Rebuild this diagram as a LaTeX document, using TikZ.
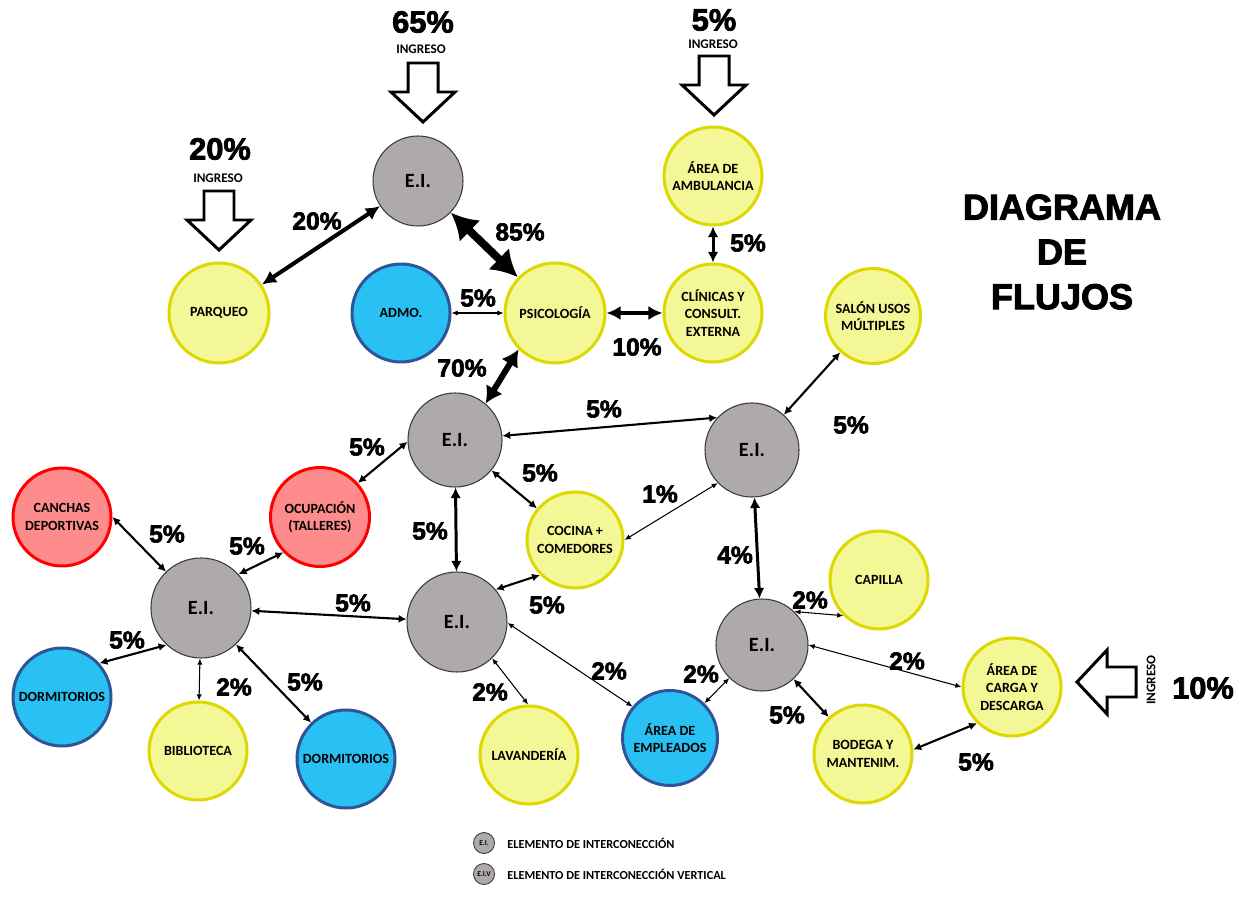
\documentclass[tikz,border=0pt]{standalone}
\usepackage{fontspec}
\setmainfont{Carlito}
\newfontfamily\heavyfont{Liberation Sans Bold}[FakeBold=2.5]
\usepackage{tikz}
\usetikzlibrary{arrows.meta}
\definecolor{area}{HTML}{F3F795}
\definecolor{arealine}{HTML}{DDD800}
\definecolor{hub}{HTML}{ADAAA9}
\definecolor{hubline}{HTML}{3A3A3A}
\definecolor{staff}{HTML}{29C0F3}
\definecolor{staffline}{HTML}{2F5597}
\definecolor{sport}{HTML}{FF8C8C}
\definecolor{sportline}{HTML}{FF0000}
\definecolor{ink}{HTML}{000000}
\tikzset{
  >=Latex,
  every node/.style={text=ink},
  spot/.style={circle,draw=arealine,line width=1.7pt,fill=area,minimum size=19.6mm,inner sep=0pt,align=center,font=\fontsize{8}{9.8}\selectfont\bfseries},
  staffspot/.style={spot,draw=staffline,fill=staff},
  sportspot/.style={spot,draw=sportline,fill=sport},
  hubspot/.style={spot,draw=hubline,line width=0.6pt,fill=hub,font=\fontsize{11.5}{12}\selectfont\bfseries},
  pct/.style={font=\heavyfont\fontsize{14}{14}\selectfont,inner sep=0pt},
  bigpct/.style={pct,font=\heavyfont\fontsize{17.5}{17.5}\selectfont},
  ingresslabel/.style={font=\fontsize{7.5}{8}\selectfont\bfseries,inner sep=0pt},
  ingress/.style={draw=ink,line width=1.7pt,fill=white,line join=miter},
  thinflow/.style={{Latex[length=3.5pt,width=3pt]}-{Latex[length=3.5pt,width=3pt]},line width=0.6pt,draw=ink},
  flow/.style={{Latex[length=4.5pt,width=4.5pt]}-{Latex[length=4.5pt,width=4.5pt]},line width=1.2pt,draw=ink},
  midflow/.style={{Latex[length=6pt,width=6pt]}-{Latex[length=6pt,width=6pt]},line width=1.7pt,draw=ink},
  thickflow/.style={{Latex[length=8pt,width=8pt]}-{Latex[length=8pt,width=8pt]},line width=2.3pt,draw=ink},
  heavyflow/.style={{Latex[length=9.5pt,width=11pt]}-{Latex[length=9.5pt,width=11pt]},line width=3.4pt,draw=ink},
  maxflow/.style={{Latex[length=15pt,width=17pt]}-{Latex[length=15pt,width=17pt]},line width=4.5pt,draw=ink},
  title/.style={align=center,font=\heavyfont\fontsize{20.5}{25.5}\selectfont,inner sep=0pt},
  keytext/.style={anchor=west,inner sep=0pt,font=\fontsize{7}{7.5}\selectfont\bfseries},
  pics/ingressarrow/.style={code={
    \draw[ingress] (-15,-59) -- (15,-59) -- (15,-30) -- (32,-30) -- (0,0) -- (-32,-30) -- (-15,-30) -- cycle;
  }},
}

\begin{document}
\begin{tikzpicture}[x=0.2mm,y=-0.2mm]
\useasboundingbox (0,0) rectangle (1249,898);

\node[hubspot,minimum size=18mm] (eiTop) at (418,181) {E.I.};
\node[spot,minimum size=20mm] (parqueo) at (219,313) {PARQUEO};
\node[staffspot] (admo) at (401,313) {ADMO.};
\node[spot,minimum size=20mm] (psicologia) at (555,313) {PSICOLOGÍA};
\node[spot] (ambulancia) at (713,176) {ÁREA DE\\AMBULANCIA};
\node[spot] (clinicas) at (713,313) {CLÍNICAS Y\\CONSULT.\\EXTERNA};
\node[spot,minimum size=19mm] (salon) at (873,316) {SALÓN USOS\\MÚLTIPLES};
\node[hubspot,minimum size=18.8mm] (eiMid) at (455,440) {E.I.};
\node[hubspot,minimum size=18.8mm] (eiRight) at (752,450) {E.I.};
\node[sportspot,minimum size=19.8mm] (ocupacion) at (320,517) {OCUPACIÓN\\(TALLERES)};
\node[sportspot] (canchas) at (62,517) {CANCHAS\\DEPORTIVAS};
\node[spot,minimum size=19.2mm] (cocina) at (575,540) {COCINA +\\COMEDORES};
\node[hubspot,minimum size=20mm] (eiLeft) at (201,608) {E.I.};
\node[hubspot,minimum size=20mm] (eiCenter) at (457,622) {E.I.};
\node[hubspot,minimum size=18.4mm] (eiLow) at (762,645) {E.I.};
\node[spot] (capilla) at (879,580) {CAPILLA};
\node[spot] (carga) at (1012,687) {ÁREA DE\\CARGA Y\\DESCARGA};
\node[staffspot] (dormA) at (62,697) {DORMITORIOS};
\node[spot] (biblioteca) at (198,751) {BIBLIOTECA};
\node[staffspot] (dormB) at (346,759) {DORMITORIOS};
\node[spot] (lavanderia) at (529,755) {LAVANDERÍA};
\node[staffspot,minimum size=19mm] (empleados) at (670,738) {ÁREA DE\\EMPLEADOS};
\node[spot] (bodega) at (863,754) {BODEGA Y\\MANTENIM.};

\pic at (423,122) {ingressarrow};
\pic at (219,250) {ingressarrow};
\pic at (714,115) {ingressarrow};
\pic[rotate=-90] at (1077,682) {ingressarrow};
\node[bigpct] (inTopPct) at (423,22) {65\%};
\node[ingresslabel] (inTopTxt) at (421,49) {INGRESO};
\node[bigpct] (inParkPct) at (220,149) {20\%};
\node[ingresslabel] (inParkTxt) at (218,178) {INGRESO};
\node[bigpct] (inAmbPct) at (714,20) {5\%};
\node[ingresslabel] (inAmbTxt) at (713,44) {INGRESO};
\node[bigpct] (inLoadPct) at (1203,688) {10\%};
\node[ingresslabel,rotate=90] (inLoadTxt) at (1151,680) {INGRESO};

\node[title] (title) at (1062,252) {DIAGRAMA\\DE\\FLUJOS};

\draw[thickflow] (eiTop) -- (parqueo);
\draw[maxflow] (eiTop) -- (psicologia);
\draw[thinflow] (admo) -- (psicologia);
\draw[thickflow] (psicologia) -- (clinicas);
\draw[midflow] (ambulancia) -- (clinicas);
\draw[heavyflow] (psicologia.225) -- (eiMid.50);
\draw[flow] (eiMid.5) -- (eiRight.137);
\draw[flow] (eiRight) -- (salon);
\draw[flow] (ocupacion.42) -- (eiMid.182);
\draw[flow] (eiMid) -- (cocina);
\draw[midflow] (eiMid) -- (eiCenter);
\draw[thinflow] (cocina.0) -- (eiRight.224);
\draw[midflow] (eiRight) -- (eiLow);
\draw[flow] (canchas.0) -- (eiLeft.134);
\draw[flow] (eiLeft.42) -- (ocupacion.224);
\draw[flow] (eiLeft) -- (eiCenter);
\draw[flow] (eiCenter.40) -- (cocina.225);
\draw[flow] (dormA.42) -- (eiLeft.227);
\draw[thinflow] (eiLeft) -- (biblioteca);
\draw[flow] (eiLeft) -- (dormB);
\draw[thinflow] (eiCenter.314) -- (lavanderia.91);
\draw[thinflow] (eiCenter.-1) -- (empleados.140);
\draw[thinflow] (eiLow) -- (empleados);
\draw[thinflow] (eiLow.46) -- (capilla.225);
\draw[thinflow] (eiLow.0) -- (carga.180);
\draw[flow] (eiLow) -- (bodega);
\draw[flow] (bodega.5) -- (carga.226);

\node[pct] (pParqueo) at (317,221) {20\%};
\node[pct] (pPsico) at (520,232) {85\%};
\node[pct] (pAdmo) at (478,298) {5\%};
\node[pct] (pClinicas) at (637,347) {10\%};
\node[pct] (pAmb) at (748,243) {5\%};
\node[pct] (pDown) at (462,368) {70\%};
\node[pct] (pAcross) at (604,409) {5\%};
\node[pct] (pSalon) at (851,425) {5\%};
\node[pct] (pOcupA) at (367,447) {5\%};
\node[pct] (pCocinaA) at (540,473) {5\%};
\node[pct] (pMidDown) at (430,531) {5\%};
\node[pct] (pCocinaR) at (660,494) {1\%};
\node[pct] (pRightDown) at (735,555) {4\%};
\node[pct] (pCanchas) at (167,534) {5\%};
\node[pct] (pOcupB) at (247,546) {5\%};
\node[pct] (pLeftCenter) at (353,603) {5\%};
\node[pct] (pCocinaB) at (547,605) {5\%};
\node[pct] (pDormA) at (127,640) {5\%};
\node[pct] (pBiblio) at (234,687) {2\%};
\node[pct] (pDormB) at (305,682) {5\%};
\node[pct] (pLav) at (490,692) {2\%};
\node[pct] (pEmpA) at (609,671) {2\%};
\node[pct] (pEmpB) at (701,674) {2\%};
\node[pct] (pCapilla) at (810,600) {2\%};
\node[pct] (pCarga) at (907,661) {2\%};
\node[pct] (pBodega) at (787,715) {5\%};
\node[pct] (pBodCarga) at (976,762) {5\%};

\node[hubspot,minimum size=4.2mm,line width=0.5pt,font=\fontsize{4.2}{4.5}\selectfont\bfseries] (keyEI) at (484,843) {E.I.};
\node[keytext] (keyEItxt) at (507,843) {ELEMENTO DE INTERCONECCIÓN};
\node[hubspot,minimum size=4.2mm,line width=0.5pt,font=\fontsize{4.2}{4.5}\selectfont\bfseries] (keyEIV) at (484,874) {E.I.V};
\node[keytext] (keyEIVtxt) at (507,874) {ELEMENTO DE INTERCONECCIÓN VERTICAL};

\end{tikzpicture}
\end{document}
